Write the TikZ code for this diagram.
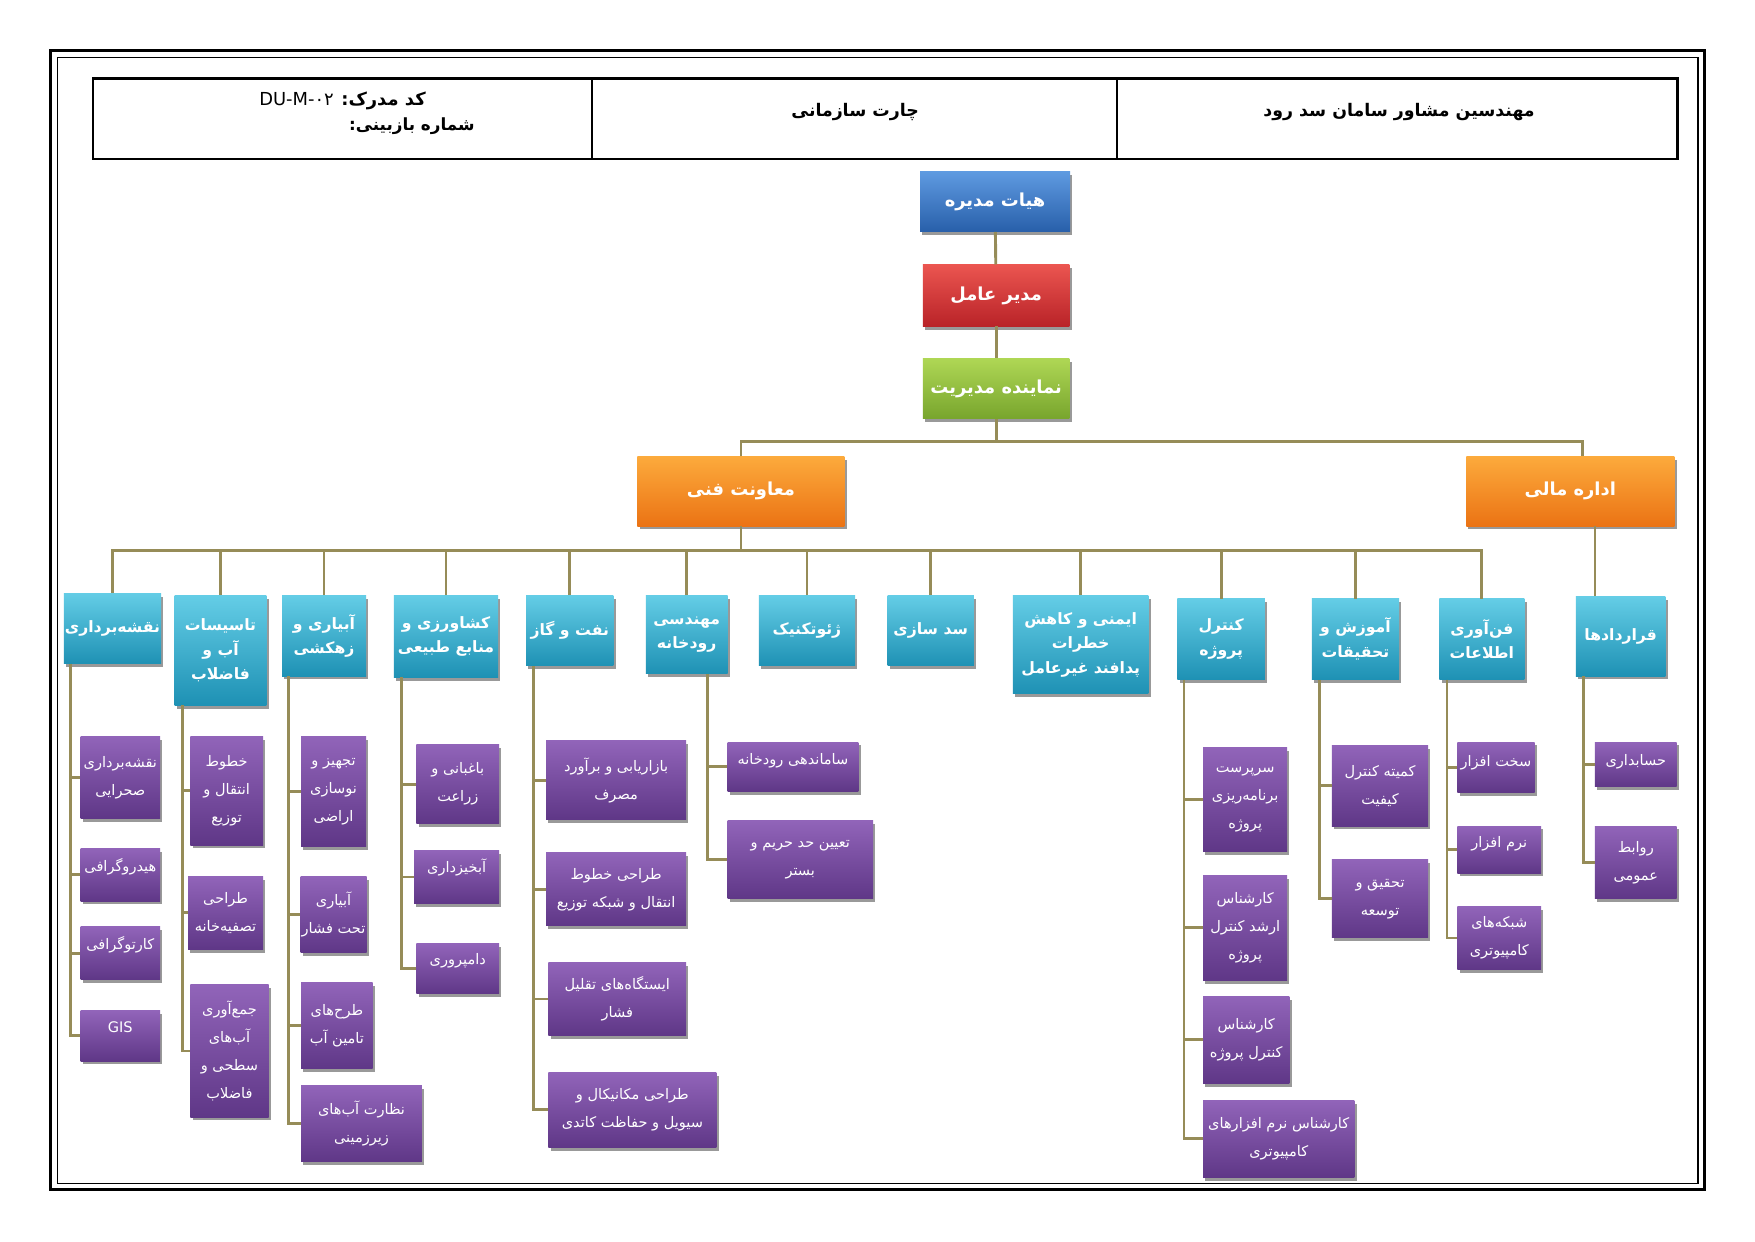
\documentclass[tikz,border=0pt]{standalone}
\usepackage{fontspec}
\usetikzlibrary{shadows,calc}
\TeXXeTstate=1
\newfontfamily\arabicfont[Script=Arabic]{DejaVu Sans}
\newcommand{\fa}[1]{\beginR #1\endR}
\definecolor{conncol}{RGB}{150,140,88}
\definecolor{blueT}{RGB}{95,155,225}
\definecolor{blueB}{RGB}{40,95,170}
\definecolor{redT}{RGB}{235,85,80}
\definecolor{redB}{RGB}{185,35,40}
\definecolor{greenT}{RGB}{175,215,85}
\definecolor{greenB}{RGB}{120,165,45}
\definecolor{orangeT}{RGB}{252,170,60}
\definecolor{orangeB}{RGB}{235,115,20}
\definecolor{tealT}{RGB}{100,205,230}
\definecolor{tealB}{RGB}{30,145,180}
\definecolor{purT}{RGB}{145,100,185}
\definecolor{purB}{RGB}{95,55,135}
\begin{document}
\begin{tikzpicture}[x=1pt,y=-1pt,
  conn/.style={draw=conncol, line width=2.6pt},
  box/.style={rectangle, inner sep=1pt, align=center, text=white,
    drop shadow={shadow xshift=2pt,shadow yshift=-3pt,opacity=0.4,fill=black}},
  sz/.style 2 args={minimum width=#1pt, minimum height=#2pt},
  lift/.style={text depth=#1},
  topbox/.style={box, font=\arabicfont\bfseries\fontsize{16}{20}\selectfont},
  midbox/.style={box, top color=tealT, bottom color=tealB, font=\arabicfont\bfseries\fontsize{14}{22}\selectfont},
  leaf/.style={box, top color=purT, bottom color=purB, font=\arabicfont\fontsize{13}{25}\selectfont},
  hdr/.style={font=\arabicfont\bfseries\fontsize{15.5}{20}\selectfont, inner sep=0pt},
  hdrs/.style={font=\arabicfont\fontsize{16}{18}\selectfont, inner sep=0pt},
]
\useasboundingbox (0,0) rectangle (1568,1109);
\fill[white] (0,0) rectangle (1568,1109);
% frame
\draw[line width=3pt] (45,45) rectangle (1523,1063);
\draw[line width=1pt] (51,51) rectangle (1517,1057);
% header
\draw[line width=2.4pt] (83,70) rectangle (1499,142);
\draw[line width=2.4pt] (529,70) -- (529,142);
\draw[line width=2.4pt] (998,70) -- (998,142);
\node[hdrs] (doccode) at (306,90) {\fa{{\bfseries کد مدرک:} \beginL DU-M-۰۲\endL}};
\node[hdr, font=\arabicfont\bfseries\fontsize{15}{18}\selectfont] (rev) at (368,113) {\fa{شماره بازبینی:}};
\node[hdr] (title) at (764,100) {\fa{چارت سازمانی}};
\node[hdr] (company) at (1250,100) {\fa{مهندسین مشاور سامان سد رود}};
% top levels
\node[topbox, top color=blueT, bottom color=blueB, sz={134}{54}] (board) at (889,180) {\fa{هیات مدیره}};
\node[topbox, top color=redT, bottom color=redB, sz={131}{55}] (ceo) at (890,264) {\fa{مدیر عامل}};
\node[topbox, top color=greenT, bottom color=greenB, sz={131}{54}] (rep) at (890,347) {\fa{نماینده مدیریت}};
\node[topbox, top color=orangeT, bottom color=orangeB, sz={185}{62}] (tech) at (662,439) {\fa{معاونت فنی}};
\node[topbox, top color=orangeT, bottom color=orangeB, sz={186}{62}] (fin) at (1403,439) {\fa{اداره مالی}};
% second level
\node[midbox, sz={85}{63}] (survey) at (100.5,561.5) {\fa{نقشه‌برداری}};
\node[midbox, sz={82}{98}] (water) at (197,581) {\fa{تاسیسات}\\\fa{آب و}\\\fa{فاضلاب}};
\node[midbox, sz={75}{72}] (irrig) at (289.5,568) {\fa{آبیاری و}\\\fa{زهکشی}};
\node[midbox, sz={93}{73}] (agri) at (398.5,568.5) {\fa{کشاورزی و}\\\fa{منابع طبیعی}};
\node[midbox, sz={78}{63}] (oil) at (509,563.5) {\fa{نفت و گاز}};
\node[midbox, sz={73}{70}] (river) at (613.5,567) {\fa{مهندسی}\\\fa{رودخانه}};
\node[midbox, sz={86}{63}] (geo) at (721,563.5) {\fa{ژئوتکنیک}};
\node[midbox, sz={77}{63}] (dam) at (831.5,563.5) {\fa{سد سازی}};
\node[midbox, sz={121}{88}] (safety) at (965.5,576) {\fa{ایمنی و کاهش}\\\fa{خطرات}\\\fa{پدافند غیرعامل}};
\node[midbox, sz={78}{72}] (pc) at (1091,571) {\fa{کنترل}\\\fa{پروژه}};
\node[midbox, sz={78}{72}] (edu) at (1211,571) {\fa{آموزش و}\\\fa{تحقیقات}};
\node[midbox, sz={76}{72}] (it) at (1324,571) {\fa{فن‌آوری}\\\fa{اطلاعات}};
\node[midbox, sz={80}{71}] (contracts) at (1448,568.5) {\fa{قراردادها}};
% connectors top
\draw[conn] (board) -- (ceo);
\draw[conn] (ceo) -- (rep);
\draw[conn] (rep.south) -- ++(0,20) coordinate (b1);
\draw[conn] (tech.north) |- (b1) -| ($(fin.north)+(11,0)$);
\draw[conn] (tech.south) -- ++(0,22) coordinate (b2);
\draw[conn] (survey.north) |- (b2) -| (it.north);
\foreach \n in {water,irrig,agri,oil,river,geo,dam,safety,pc,edu}
  \draw[conn] (\n.north) -- (\n.north |- b2);
\coordinate (fx) at (1425,0);
\draw[conn] (fin.south -| fx) -- (contracts.north -| fx);
% leaves: survey
\node[leaf, sz={71}{73}] (sv1) at (107.5,694.5) {\fa{نقشه‌برداری}\\\fa{صحرایی}};
\node[leaf, sz={71}{47}, lift=18pt] (sv2) at (107.5,781.5) {\fa{هیدروگرافی}};
\node[leaf, sz={71}{47}, lift=18pt] (sv3) at (107.5,851.5) {\fa{کارتوگرافی}};
\node[leaf, sz={71}{45}, lift=16pt] (sv4) at (107.5,925.5) {GIS};
% water
\node[leaf, sz={65}{97}] (wa1) at (202.5,706.5) {\fa{خطوط}\\\fa{انتقال و}\\\fa{توزیع}};
\node[leaf, sz={67}{65}] (wa2) at (201.5,815.5) {\fa{طراحی}\\\fa{تصفیه‌خانه}};
\node[leaf, sz={70}{118}] (wa3) at (205,939) {\fa{جمع‌آوری}\\\fa{آب‌های}\\\fa{سطحی و}\\\fa{فاضلاب}};
% irrigation
\node[leaf, sz={58}{98}] (ir1) at (298,707) {\fa{تجهیز و}\\\fa{نوسازی}\\\fa{اراضی}};
\node[leaf, sz={58}{68}] (ir2) at (298,817) {\fa{آبیاری}\\\fa{تحت فشار}};
\node[leaf, sz={64}{77}] (ir3) at (301,916.5) {\fa{طرح‌های}\\\fa{تامین آب}};
\node[leaf, sz={108}{68}] (ir4) at (323,1004) {\fa{نظارت آب‌های}\\\fa{زیرزمینی}};
% agriculture
\node[leaf, sz={74}{71}] (ag1) at (409,700.5) {\fa{باغبانی و}\\\fa{زراعت}};
\node[leaf, sz={76}{47}, lift=20pt] (ag2) at (408,783.5) {\fa{آبخیزداری}};
\node[leaf, sz={74}{45}, lift=18pt] (ag3) at (409,865.5) {\fa{دامپروری}};
% oil
\node[leaf, sz={125}{70}] (oi1) at (550.5,697) {\fa{بازاریابی و برآورد}\\\fa{مصرف}};
\node[leaf, sz={125}{65}] (oi2) at (550.5,794.5) {\fa{طراحی خطوط}\\\fa{انتقال و شبکه توزیع}};
\node[leaf, sz={123}{65}] (oi3) at (551.5,892.5) {\fa{ایستگاه‌های تقلیل}\\\fa{فشار}};
\node[leaf, sz={150}{67}] (oi4) at (565,991.5) {\fa{طراحی مکانیکال و}\\\fa{سیویل و حفاظت کاتدی}};
% river
\node[leaf, sz={117}{44}, lift=14pt] (rv1) at (708.5,685) {\fa{ساماندهی رودخانه}};
\node[leaf, sz={130}{70}] (rv2) at (715,768) {\fa{تعیین حد حریم و}\\\fa{بستر}};
% project control
\node[leaf, sz={75}{93}] (pc1) at (1112.5,714.5) {\fa{سرپرست}\\\fa{برنامه‌ریزی}\\\fa{پروژه}};
\node[leaf, sz={75}{94}] (pc2) at (1112.5,829) {\fa{کارشناس}\\\fa{ارشد کنترل}\\\fa{پروژه}};
\node[leaf, sz={77}{78}] (pc3) at (1113.5,929) {\fa{کارشناس}\\\fa{کنترل پروژه}};
\node[leaf, sz={135}{69}] (pc4) at (1142.5,1017.5) {\fa{کارشناس نرم افزارهای}\\\fa{کامپیوتری}};
% education
\node[leaf, sz={86}{72}] (ed1) at (1233,702) {\fa{کمیته کنترل}\\\fa{کیفیت}};
\node[leaf, sz={86}{70}] (ed2) at (1233,803) {\fa{تحقیق و}\\\fa{توسعه}};
% IT
\node[leaf, sz={69}{45}, lift=12pt] (it1) at (1336.5,685.5) {\fa{سخت افزار}};
\node[leaf, sz={75}{42}, lift=14pt] (it2) at (1339.5,759) {\fa{نرم افزار}};
\node[leaf, sz={75}{56}] (it3) at (1339.5,838) {\fa{شبکه‌های}\\\fa{کامپیوتری}};
% contracts
\node[leaf, sz={73}{40}, lift=8pt] (ct1) at (1461.5,683) {\fa{حسابداری}};
\node[leaf, sz={73}{65}] (ct2) at (1461.5,770.5) {\fa{روابط}\\\fa{عمومی}};
% leaf connectors
\coordinate (svs) at ($(survey.south west)+(6,0)$);
\coordinate (was) at ($(water.south west)+(7,0)$);
\coordinate (irs) at ($(irrig.south west)+(6,0)$);
\coordinate (ags) at ($(agri.south west)+(7,0)$);
\coordinate (ois) at ($(oil.south west)+(7,0)$);
\coordinate (rvs) at ($(river.south east)+(-18,0)$);
\coordinate (pcs) at ($(pc.south west)+(6,0)$);
\coordinate (eds) at ($(edu.south west)+(7,0)$);
\coordinate (its) at ($(it.south west)+(7,0)$);
\coordinate (cts) at ($(contracts.south west)+(7,0)$);
\foreach \l in {sv1,sv2,sv3,sv4} \draw[conn] (svs) |- (\l.west);
\foreach \l in {wa1,wa2,wa3} \draw[conn] (was) |- (\l.west);
\foreach \l in {ir1,ir2,ir3,ir4} \draw[conn] (irs) |- (\l.west);
\foreach \l in {ag1,ag2,ag3} \draw[conn] (ags) |- (\l.west);
\foreach \l in {oi1,oi2,oi3,oi4} \draw[conn] (ois) |- (\l.west);
\foreach \l in {rv1,rv2} \draw[conn] (rvs) |- (\l.west);
\foreach \l in {pc1,pc2,pc3,pc4} \draw[conn] (pcs) |- (\l.west);
\foreach \l in {ed1,ed2} \draw[conn] (eds) |- (\l.west);
\foreach \l in {it1,it2,it3} \draw[conn] (its) |- (\l.west);
\foreach \l in {ct1,ct2} \draw[conn] (cts) |- (\l.west);
\end{tikzpicture}
\end{document}
